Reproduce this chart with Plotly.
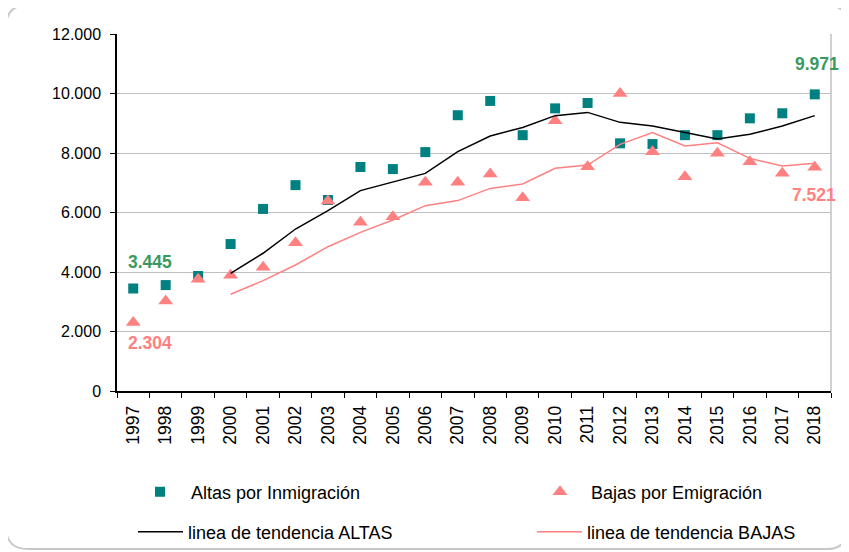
import plotly.graph_objects as go

years = [str(y) for y in range(1997, 2019)]

altas = [3445, 3560, 3866, 4940, 6120, 6920, 6420, 7530, 7460, 8030, 9270,
         9750, 8600, 9500, 9680, 8325, 8300, 8600, 8600, 9165, 9335, 9971]
bajas = [2304, 3025, 3760, 3890, 4160, 4985, 6390, 5670, 5860, 7015, 7015,
         7290, 6500, 9085, 7540, 10000, 8045, 7200, 7990, 7710, 7320, 7521]
tend_altas = [None, None, None, 3955, 4630, 5445, 6060, 6735, 7035, 7316, 8045,
              8570, 8860, 9255, 9365, 9030, 8905, 8695, 8470, 8630, 8905, 9255]
tend_bajas = [None, None, None, 3250, 3710, 4235, 4850, 5333, 5750, 6230, 6400,
              6810, 6960, 7485, 7595, 8290, 8685, 8235, 8345, 7820, 7565, 7655]

TEAL = "#008080"
PINK = "#FF8080"
GREEN = "#3A9A5E"
FONT = "Liberation Sans, Arial, sans-serif"

# page body has an 8px margin: work in screen pixels and shift
OFF = 8
W, H = 849, 552
AX_L, AX_R, AX_T, AX_B = 117, 831, 34, 391  # plot area in screen px
L, T = AX_L - OFF, AX_T - OFF
R, B = W - (AX_R - OFF), H - (AX_B - OFF)
PW, PH = AX_R - AX_L, AX_B - AX_T


def px(x):
    return (x - AX_L) / PW


def py(y):
    return (AX_B - y) / PH


def fmt(v):
    return f"{v:,}".replace(",", ".")


fig = go.Figure()
fig.add_trace(go.Scatter(x=years, y=altas, mode="markers", name="Altas por Inmigración",
                         marker=dict(symbol="square", size=10, color=TEAL, line=dict(width=0)),
                         legend="legend"))
fig.add_trace(go.Scatter(x=years, y=bajas, mode="markers", name="Bajas por Emigración",
                         marker=dict(symbol="triangle-up", size=13, color=PINK, line=dict(width=0)),
                         legend="legend2"))
fig.add_trace(go.Scatter(x=years, y=tend_altas, mode="lines", name="linea de tendencia ALTAS",
                         line=dict(color="black", width=1.5), legend="legend3"))
fig.add_trace(go.Scatter(x=years, y=tend_bajas, mode="lines", name="linea de tendencia BAJAS",
                         line=dict(color=PINK, width=1.5), legend="legend4"))

first, last = 0, len(years) - 1
annots = [
    dict(x=first, y=altas[first], v=altas[first], xshift=17, yshift=27, color=GREEN),
    dict(x=first, y=bajas[first], v=bajas[first], xshift=17, yshift=-21, color=PINK),
    dict(x=last, y=altas[last], v=altas[last], xshift=2, yshift=30, color=GREEN),
    dict(x=last, y=bajas[last], v=bajas[last], xshift=-1, yshift=-28, color=PINK),
]
annotations = [dict(x=a["x"], y=a["y"], xref="x", yref="y", text="<b>" + fmt(a["v"]) + "</b>",
                    showarrow=False, xshift=a["xshift"], yshift=a["yshift"],
                    font=dict(color=a["color"], size=17.5, family=FONT)) for a in annots]

legfont = dict(family=FONT, size=18, color="black")


def leg(x, y, iw=30):
    return dict(x=px(x), y=py(y), xanchor="left", yanchor="middle", orientation="h",
                font=legfont, bgcolor="rgba(0,0,0,0)", itemwidth=iw, borderwidth=0)


# outer rounded border
x0, x1, y0, y1, r = px(6), px(848), py(5), py(549), 22
rx, ry = r / PW, r / PH
path = (f"M {x0+rx},{y0} L {x1-rx},{y0} Q {x1},{y0} {x1},{y0-ry} "
        f"L {x1},{y1+ry} Q {x1},{y1} {x1-rx},{y1} L {x0+rx},{y1} "
        f"Q {x0},{y1} {x0},{y1+ry} L {x0},{y0-ry} Q {x0},{y0} {x0+rx},{y0} Z")

fig.update_layout(
    template="none",
    width=W, height=H,
    margin=dict(l=L, r=R, t=T, b=B, autoexpand=False),
    paper_bgcolor="white", plot_bgcolor="white",
    separators=",.",
    font=dict(family=FONT, size=16, color="black"),
    showlegend=True,
    legend=leg(129, 492, 52),
    legend2=leg(529, 492, 52),
    legend3=leg(133, 532, 45),
    legend4=leg(532, 532, 45),
    annotations=annotations,
    shapes=[
        dict(type="path", xref="paper", yref="paper", path=path,
             line=dict(color="#C8C8C8", width=2), fillcolor="rgba(0,0,0,0)", layer="below"),
        dict(type="line", xref="paper", yref="paper", x0=1, x1=1, y0=0, y1=1,
             line=dict(color="#C0C0C0", width=1.5)),
    ],
    xaxis=dict(type="category", range=[-0.5, 21.5], showline=True, linecolor="black",
               linewidth=1.5, ticks="outside", ticklen=5, tickcolor="black",
               tickson="boundaries", tickangle=-90, showgrid=False, automargin=False,
               tickfont=dict(family=FONT, size=17.5), zeroline=False, ticklabelstandoff=6),
    yaxis=dict(range=[0, 12000], dtick=2000, tickformat=",", showline=True,
               linecolor="black", linewidth=1.5, ticks="outside", ticklen=5,
               tickcolor="black", showgrid=True, gridcolor="#C0C0C0", gridwidth=1,
               zeroline=False, automargin=False, ticklabelstandoff=6,
               tickfont=dict(family=FONT, size=16)),
)

fig.write_html("out.html")
